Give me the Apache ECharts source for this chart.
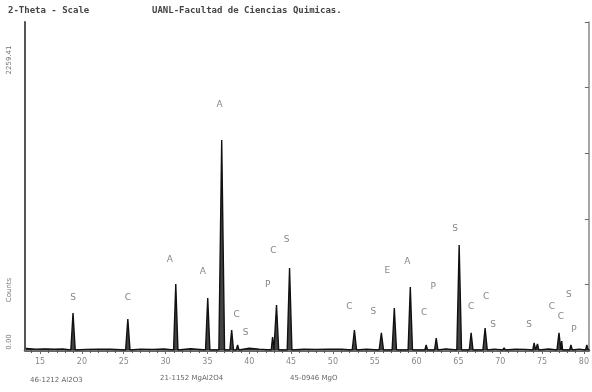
<!DOCTYPE html>
<html><head><meta charset="utf-8">
<script src="https://cdn.jsdelivr.net/npm/echarts@6/dist/echarts.min.js"></script>
<style>html,body{margin:0;padding:0;background:#fff}#c{width:592px;height:392px}</style>
</head><body><div id="c"></div>
<script>
// 2-Theta positions (deg) and intensities (counts) of the diffraction peaks
const peakPos    = [18.94, 25.49, 31.22, 35.04, 36.71, 37.90, 38.61, 42.79, 43.26, 44.82, 52.57, 55.79, 57.34, 59.25, 61.15, 62.35, 65.09, 66.52, 68.19, 70.46, 74.05, 74.45, 77.02, 77.35, 78.45, 80.35];
const peakHeight = [254,   213,   453,   357,   1440,  137,   34,    89,    309,   562,   137,   117,   288,   432,   34,    82,    720,   117,   151,   14,    48,    41,    117,   62,    34,    34];
const peakHalfWidth = [0.26,0.26,0.26,0.26,0.34,0.22,0.16,0.16,0.26,0.28,0.26,0.26,0.26,0.26,0.16,0.2,0.28,0.22,0.26,0.16,0.16,0.16,0.24,0.1,0.16,0.16];
// background noise points
const bgPos = [13.3, 14.5, 15.6, 16.8, 17.7, 20.5, 22.0, 23.4, 27.0, 28.6, 29.8, 33.0, 40.0, 41.2, 46.5, 48.0, 49.5, 51.0, 54.0, 63.5, 69.3, 71.8, 73.0, 75.8, 79.4, 80.6];
const bgVal = [10, 6, 8, 5, 7, 4, 6, 5, 6, 4, 7, 9, 12, 6, 5, 4, 6, 5, 5, 8, 6, 5, 4, 7, 6, 5];
// phase identification letters: position, height, letter
const tagPos    = [18.94, 25.5, 30.5, 34.44, 36.47, 38.49, 39.57, 42.2, 42.9, 44.46, 51.97, 54.83, 56.5, 58.89, 60.91, 61.99, 64.61, 66.52, 68.31, 69.14, 73.44, 76.18, 77.25, 78.21, 78.8];
const tagHeight = [357,   357,  617,  535,   1681,  240,   117,   446,  679,  755,   295,   261,   542,  604,   254,   432,   830,   295,   364,   172,   172,   295,   226,   377,   137];
const tagText   = ['S',   'C',  'A',  'A',   'A',   'C',   'S',   'P',  'C',  'S',   'C',   'S',   'E',  'A',   'C',   'P',   'S',   'C',   'C',   'S',   'S',   'C',   'C',   'S',   'P'];
const xTickLabels = [15,20,25,30,35,40,45,50,55,60,65,70,75,80];
const phaseCards = ['46-1212 Al2O3', '21-1152 MgAl2O4', '45-0946 MgO'];

const pts = [];
peakPos.forEach((p,i)=>{
  pts.push([p-peakHalfWidth[i], 0]);
  pts.push([p, peakHeight[i]]);
  pts.push([p+peakHalfWidth[i], 0]);
});
bgPos.forEach((p,i)=>pts.push([p,bgVal[i]]));
pts.sort((a,b)=>a[0]-b[0]);

const tags = tagPos.map((p,i)=>[p, tagHeight[i], tagText[i]]);
const minorTicks = []; for (let t=14; t<=80; t++) minorTicks.push(t);

const chart = echarts.init(document.getElementById('c'), null, {renderer:'canvas'});
const FONT = 'DejaVu Sans';
chart.setOption({
  animation:false,
  backgroundColor:'#fff',
  grid:{left:25, right:3, top:22, bottom:42},
  xAxis:[{
    type:'value', min:13.2, max:80.6, position:'bottom',
    axisLine:{lineStyle:{color:'#333', width:2.5}},
    axisTick:{show:true, customValues:minorTicks, length:3, inside:false, lineStyle:{color:'#555'}},
    axisLabel:{customValues:xTickLabels, color:'#888', fontSize:8, fontFamily:FONT, margin:8},
    splitLine:{show:false}
  },{
    type:'value', min:13.2, max:80.6, position:'top',
    axisLine:{lineStyle:{color:'#888', width:1.5}},
    axisTick:{show:true, customValues:xTickLabels, length:4, inside:true, lineStyle:{color:'#666'}},
    axisLabel:{show:false}, splitLine:{show:false}
  }],
  yAxis:[{
    type:'value', min:0, max:2250, position:'left',
    axisLine:{show:true, lineStyle:{color:'#555', width:2}},
    axisTick:{show:false}, axisLabel:{show:false}, splitLine:{show:false}
  },{
    type:'value', min:0, max:2250, interval:450, position:'right',
    axisLine:{show:true, lineStyle:{color:'#888', width:1.5}},
    axisTick:{show:true, inside:true, length:4, lineStyle:{color:'#666'}},
    axisLabel:{show:false}, splitLine:{show:false}
  }],
  series:[{
    type:'line', data:pts, symbol:'none', xAxisIndex:0, yAxisIndex:0,
    lineStyle:{color:'#111', width:1.4},
    areaStyle:{color:'#222', opacity:0.85},
    z:3
  },{
    type:'scatter', data:tags, symbolSize:0, xAxisIndex:0, yAxisIndex:0,
    label:{show:true, position:'inside', formatter:p=>p.value[2], color:'#666', fontSize:9, fontFamily:FONT},
    z:4
  }],
  graphic:[
    {type:'text', left:8, top:6, style:{text:'2-Theta - Scale', font:'bold 9px "DejaVu Sans Mono"', fill:'#444'}},
    {type:'text', left:152, top:6, style:{text:'UANL-Facultad de Ciencias Quimicas.', font:'bold 9px "DejaVu Sans Mono"', fill:'#444'}},
    {type:'text', x:9, y:60, rotation:Math.PI/2, style:{text:'2259.41', font:'7px "DejaVu Sans"', fill:'#777', align:'center', verticalAlign:'middle'}},
    {type:'text', x:9, y:290, rotation:Math.PI/2, style:{text:'Counts', font:'7px "DejaVu Sans"', fill:'#777', align:'center', verticalAlign:'middle'}},
    {type:'text', x:9, y:342, rotation:Math.PI/2, style:{text:'0.00', font:'7px "DejaVu Sans"', fill:'#777', align:'center', verticalAlign:'middle'}},
    {type:'text', left:30, top:377, style:{text:phaseCards[0], font:'7px "DejaVu Sans"', fill:'#666'}},
    {type:'text', left:160, top:375, style:{text:phaseCards[1], font:'7px "DejaVu Sans"', fill:'#666'}},
    {type:'text', left:290, top:375, style:{text:phaseCards[2], font:'7px "DejaVu Sans"', fill:'#666'}}
  ]
});
</script></body></html>
